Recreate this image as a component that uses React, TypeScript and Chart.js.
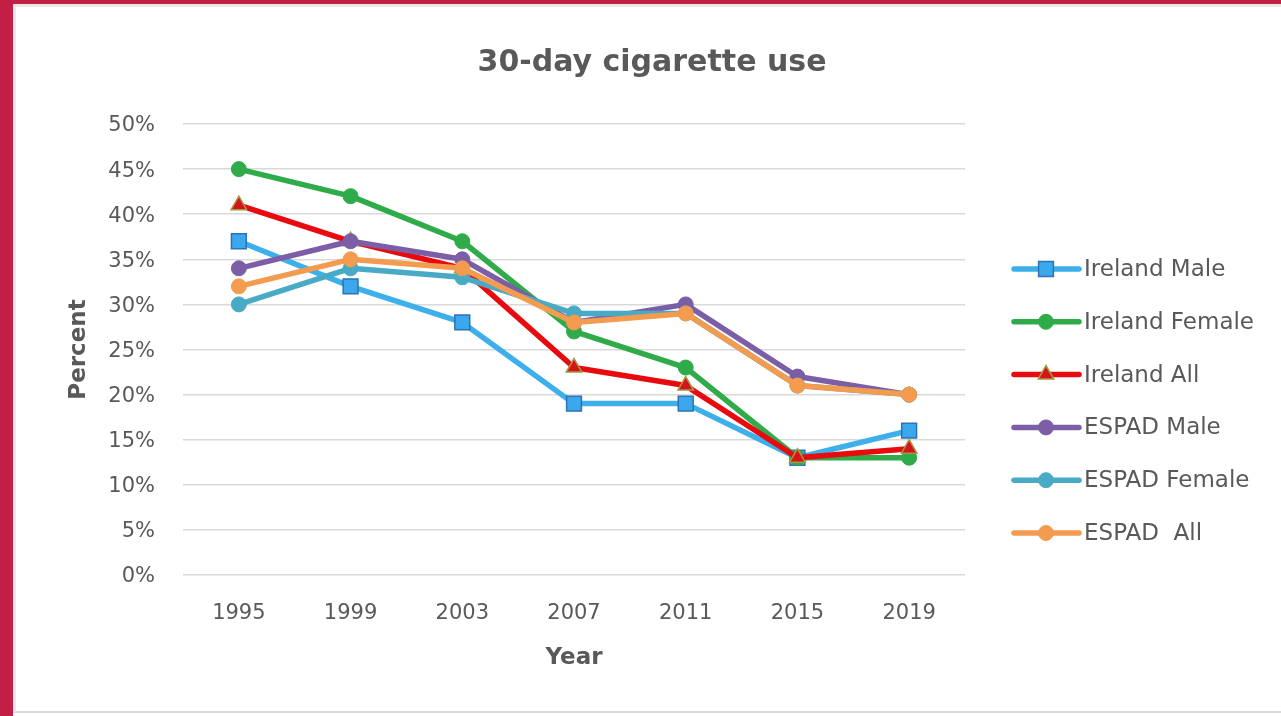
import React, { useEffect, useRef } from 'react';
import { Chart, registerables, layouts } from 'chart.js';

Chart.register(...registerables);

// ---- data ----
const years = ['1995', '1999', '2003', '2007', '2011', '2015', '2019'];
const irelandMale = [37, 32, 28, 19, 19, 13, 16];
const irelandFemale = [45, 42, 37, 27, 23, 13, 13];
const irelandAll = [41, 37, 34, 23, 21, 13, 14];
const espadMale = [34, 37, 35, 28, 30, 22, 20];
const espadFemale = [30, 34, 33, 29, 29, 21, 20];
const espadAll = [32, 35, 34, 28, 29, 21, 20];
const seriesNames = ['Ireland Male', 'Ireland Female', 'Ireland All', 'ESPAD Male', 'ESPAD Female', 'ESPAD  All'];
const titleText = '30-day cigarette use';
const xTitle = 'Year';
const yTitle = 'Percent';

// ---- styles ----
const FONT = '"DejaVu Sans", Lato, sans-serif';
const TEXT = '#595959';
const CRIMSON = '#C21F44';

type SeriesStyle = {
  line: string;
  fill: string;
  stroke: string;
  style: 'circle' | 'rect' | 'triangle';
  radius: number;
  bw: number;
};

const styles: SeriesStyle[] = [
  { line: '#3DAFEA', fill: '#3BA8EE', stroke: '#2F72B3', style: 'rect', radius: 10.5, bw: 1.5 },
  { line: '#30AB4A', fill: '#30AB4A', stroke: '#30AB4A', style: 'circle', radius: 7.5, bw: 1 },
  { line: '#E80A0F', fill: '#D8141A', stroke: '#A09A40', style: 'triangle', radius: 9, bw: 1.5 },
  { line: '#7B5EA6', fill: '#7B5EA6', stroke: '#7B5EA6', style: 'circle', radius: 7.5, bw: 1 },
  { line: '#49AAC5', fill: '#49AAC5', stroke: '#49AAC5', style: 'circle', radius: 7.5, bw: 1 },
  { line: '#F39B4F', fill: '#F39B4F', stroke: '#F39B4F', style: 'circle', radius: 7.5, bw: 1 },
];

const seriesData = [irelandMale, irelandFemale, irelandAll, espadMale, espadFemale, espadAll];

function drawMarker(ctx: CanvasRenderingContext2D, s: SeriesStyle, x: number, y: number) {
  const r = s.radius;
  ctx.beginPath();
  if (s.style === 'circle') {
    ctx.arc(x, y, r, 0, Math.PI * 2);
  } else if (s.style === 'rect') {
    const h = r * Math.SQRT1_2;
    ctx.rect(x - h, y - h, 2 * h, 2 * h);
  } else {
    let rad = 0;
    ctx.moveTo(x + Math.sin(rad) * r, y - Math.cos(rad) * r);
    rad += (2 * Math.PI) / 3;
    ctx.lineTo(x + Math.sin(rad) * r, y - Math.cos(rad) * r);
    rad += (2 * Math.PI) / 3;
    ctx.lineTo(x + Math.sin(rad) * r, y - Math.cos(rad) * r);
    ctx.closePath();
  }
  ctx.fillStyle = s.fill;
  ctx.fill();
  ctx.lineWidth = s.bw;
  ctx.strokeStyle = s.stroke;
  ctx.stroke();
}

function makeLegendBox(chart: any) {
  const box: any = {
    position: 'right',
    weight: 0,
    fullSize: false,
    options: { display: true },
    left: 0,
    top: 0,
    right: 0,
    bottom: 0,
    width: 0,
    height: 0,
    isHorizontal() {
      return false;
    },
    update(_maxW: number, maxH: number) {
      this.width = 316;
      this.height = maxH;
    },
    draw() {
      const ctx: CanvasRenderingContext2D = chart.ctx;
      const area = chart.chartArea;
      const x0 = area.right;
      ctx.save();
      seriesNames.forEach((name, i) => {
        const s = styles[i];
        const y = area.top + 145 + i * 52.8;
        ctx.beginPath();
        ctx.lineCap = 'round';
        ctx.lineWidth = 5.5;
        ctx.strokeStyle = s.line;
        ctx.moveTo(x0 + 49, y);
        ctx.lineTo(x0 + 114, y);
        ctx.stroke();
        drawMarker(ctx, s, x0 + 81, y);
        ctx.fillStyle = TEXT;
        ctx.font = `23px ${FONT}`;
        ctx.textAlign = 'left';
        ctx.textBaseline = 'middle';
        ctx.fillText(name, x0 + 119, y + 1);
      });
      ctx.restore();
    },
  };
  return box;
}

const sideLegend = {
  id: 'sideLegend',
  beforeInit(chart: any) {
    const box = makeLegendBox(chart);
    chart.$sideLegend = box;
    layouts.addBox(chart, box);
  },
  afterDestroy(chart: any) {
    if (chart.$sideLegend) {
      layouts.removeBox(chart, chart.$sideLegend);
      delete chart.$sideLegend;
    }
  },
};

export default function App() {
  const ref = useRef<HTMLCanvasElement>(null);

  useEffect(() => {
    const canvas = ref.current;
    if (!canvas) return;
    const n = seriesNames.length;
    const chart = new Chart(canvas, {
      type: 'line',
      data: {
        labels: years,
        datasets: seriesNames.map((name, i) => ({
          label: name,
          data: seriesData[i],
          borderColor: styles[i].line,
          backgroundColor: styles[i].fill,
          borderWidth: 5.5,
          borderCapStyle: 'round',
          borderJoinStyle: 'round',
          tension: 0,
          fill: false,
          pointStyle: styles[i].style,
          pointRadius: styles[i].radius,
          pointHoverRadius: styles[i].radius,
          pointBackgroundColor: styles[i].fill,
          pointBorderColor: styles[i].stroke,
          pointBorderWidth: styles[i].bw,
          order: n - 1 - i,
        })),
      } as any,
      options: {
        responsive: false,
        animation: false,
        events: [],
        layout: { padding: { left: 23, right: 0, top: 0, bottom: 0 } },
        plugins: {
          legend: { display: false },
          tooltip: { enabled: false },
          title: {
            display: true,
            text: titleText,
            color: TEXT,
            font: { family: FONT, size: 30, weight: 'bold', lineHeight: 1.2 },
            padding: { top: 45, bottom: 43 },
          },
        },
        scales: {
          x: {
            type: 'category',
            offset: true,
            grid: { display: false, drawTicks: false },
            border: { display: false },
            ticks: {
              color: TEXT,
              font: { family: FONT, size: 21 },
              padding: 26,
              maxRotation: 0,
              autoSkip: false,
            },
            title: {
              display: true,
              text: xTitle,
              color: TEXT,
              font: { family: FONT, size: 23, weight: 'bold', lineHeight: 1.2 },
              padding: { top: 0, bottom: 44 },
            },
            afterFit: (s: any) => {
              s.height = 141;
            },
          },
          y: {
            min: 0,
            max: 50,
            ticks: {
              stepSize: 5,
              callback: (v: any) => `${v}%`,
              color: TEXT,
              font: { family: FONT, size: 21 },
              padding: 28,
              labelOffset: 2,
            },
            grid: { color: '#d9d9d9', lineWidth: 1.5, drawTicks: false },
            border: { display: false },
            title: {
              display: true,
              text: yTitle,
              color: TEXT,
              font: { family: FONT, size: 23, weight: 'bold', lineHeight: 1.2 },
              padding: { top: 42, bottom: 0 },
            },
            afterFit: (s: any) => {
              s.width = 160;
            },
          },
        },
      } as any,
      plugins: [sideLegend as any],
    });
    return () => chart.destroy();
  }, []);

  return (
    <div
      style={{
        position: 'fixed',
        left: 0,
        top: 0,
        width: 1281,
        height: 716,
        background: '#ffffff',
        overflow: 'hidden',
      }}
    >
      <div style={{ position: 'absolute', left: 0, top: 0, width: 13, height: 716, background: CRIMSON }} />
      <div style={{ position: 'absolute', left: 0, top: 0, width: 1281, height: 4, background: CRIMSON }} />
      <div
        style={{
          position: 'absolute',
          left: 13,
          top: 4,
          width: 1268,
          height: 709,
          boxSizing: 'border-box',
          borderLeft: '3px solid #ece7e8',
          borderTop: '3px solid #ece7e8',
          borderBottom: '2px solid #d9d9d9',
        }}
      />
      <canvas ref={ref} width={1281} height={716} style={{ position: 'absolute', left: 0, top: 0 }} />
    </div>
  );
}
